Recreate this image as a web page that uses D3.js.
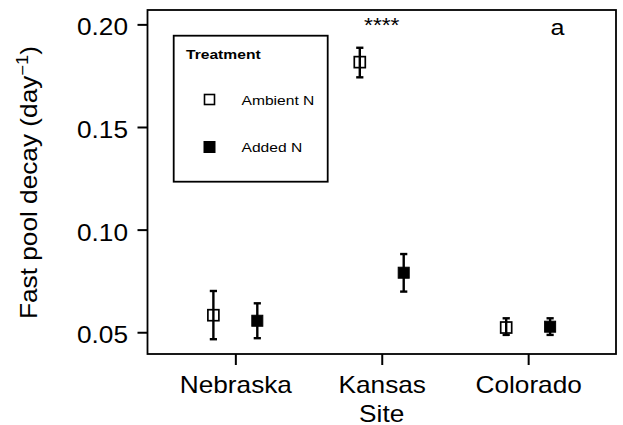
<!DOCTYPE html>
<html>
<head>
<meta charset="utf-8">
<script src="https://cdn.jsdelivr.net/npm/d3@7"></script>
<style>
  html, body { margin: 0; padding: 0; background: #fff; }
  svg { display: block; }
  text { font-family: "Liberation Sans", Arial, Helvetica, sans-serif; fill: #000; }
</style>
</head>
<body>
<svg id="chart" width="623" height="425"></svg>
<script>
// Fast pool decay rate by site and nitrogen treatment (mean with error bars)
const sites = ["Nebraska", "Kansas", "Colorado"];
const treatments = ["Ambient N", "Added N"];
const ambientMean = [0.0583, 0.1816, 0.0523];
const ambientLow  = [0.0466, 0.1742, 0.0487];
const ambientHigh = [0.0701, 0.1886, 0.0568];
const addedMean   = [0.0556, 0.0790, 0.0527];
const addedLow    = [0.0471, 0.0698, 0.0487];
const addedHigh   = [0.0641, 0.0881, 0.0568];
const yTicks = [0.05, 0.10, 0.15, 0.20];
const sigLabel = "****";   // significance marker above Kansas
const panelLabel = "a";

const W = 623, H = 425;
const plot = { left: 147.5, right: 616, top: 10, bottom: 354 };
const SX = 1.14;       // horizontal widening of glyphs
const FS = 23;         // main font size

const svg = d3.select("#chart");

const x = d3.scaleLinear().domain([0.4, 3.6]).range([plot.left, plot.right]);
const y = d3.scaleLinear().domain([0.0394, 0.2070]).range([plot.bottom, plot.top]);
const dodge = 0.15;

// rows for drawing
const rows = [];
sites.forEach((s, i) => {
  rows.push({ site: s, idx: i, trt: 0, mean: ambientMean[i], lo: ambientLow[i], hi: ambientHigh[i] });
  rows.push({ site: s, idx: i, trt: 1, mean: addedMean[i], lo: addedLow[i], hi: addedHigh[i] });
});
const xPos = d => x(d.idx + 1 + (d.trt === 0 ? -dodge : dodge));

// Y axis
const yAxis = svg.append("g")
  .attr("transform", `translate(${plot.left},0)`)
  .call(d3.axisLeft(y).tickValues(yTicks).tickFormat(d3.format(".2f")).tickSize(10).tickSizeOuter(0));
yAxis.select(".domain").remove();
yAxis.selectAll(".tick line").attr("stroke", "#000").attr("stroke-width", 2);
yAxis.selectAll(".tick text")
  .attr("font-size", FS)
  .attr("font-family", null)
  .attr("x", -19.5 / SX)
  .attr("dy", "0.46em")
  .attr("transform", `scale(${SX},1)`);

// X axis
const xAxis = svg.append("g")
  .attr("transform", `translate(0,${plot.bottom})`)
  .call(d3.axisBottom(x).tickValues([1, 2, 3]).tickFormat(d => sites[d - 1]).tickSize(11).tickSizeOuter(0));
xAxis.select(".domain").remove();
xAxis.selectAll(".tick line").attr("stroke", "#000").attr("stroke-width", 2);
xAxis.selectAll(".tick text")
  .attr("font-size", FS)
  .attr("font-family", null)
  .attr("y", 39.3)
  .attr("dy", 0)
  .attr("transform", `scale(${SX},1)`);

// Plot frame
svg.append("rect")
  .attr("x", plot.left).attr("y", plot.top)
  .attr("width", plot.right - plot.left).attr("height", plot.bottom - plot.top)
  .attr("fill", "none").attr("stroke", "#000").attr("stroke-width", 1.8);

// Axis titles
svg.append("text")
  .attr("text-anchor", "middle")
  .attr("font-size", FS)
  .attr("transform", `translate(381.7,421.7) scale(${SX},1)`)
  .text("Site");

const ylab = svg.append("text")
  .attr("text-anchor", "middle")
  .attr("font-size", FS)
  .attr("transform", `translate(37,182.5) rotate(-90) scale(${SX},1)`);
ylab.append("tspan").text("Fast pool decay (day");
ylab.append("tspan").attr("font-size", FS * 0.7).attr("dy", -9).text("\u22121");
ylab.append("tspan").attr("dy", 9).text(")");

// Error bars
const capHalf = 3.6;
const eb = svg.append("g").attr("stroke", "#000").attr("stroke-width", 2.4);
eb.selectAll("line.v").data(rows).join("line").attr("class", "v")
  .attr("x1", xPos).attr("x2", xPos)
  .attr("y1", d => y(d.lo)).attr("y2", d => y(d.hi));
eb.selectAll("line.top").data(rows).join("line").attr("class", "top")
  .attr("x1", d => xPos(d) - capHalf).attr("x2", d => xPos(d) + capHalf)
  .attr("y1", d => y(d.hi)).attr("y2", d => y(d.hi));
eb.selectAll("line.bot").data(rows).join("line").attr("class", "bot")
  .attr("x1", d => xPos(d) - capHalf).attr("x2", d => xPos(d) + capHalf)
  .attr("y1", d => y(d.lo)).attr("y2", d => y(d.lo));

// Points: open squares for ambient, filled for added
const sq = 11;
svg.append("g").selectAll("rect").data(rows).join("rect")
  .attr("x", d => xPos(d) - sq / 2)
  .attr("y", d => y(d.mean) - sq / 2)
  .attr("width", sq).attr("height", sq)
  .attr("fill", d => d.trt === 0 ? "none" : "#000")
  .attr("stroke", "#000")
  .attr("stroke-width", d => d.trt === 0 ? 1.7 : 1);

// Significance marker and panel label
svg.append("text")
  .attr("text-anchor", "middle")
  .attr("font-size", 20)
  .attr("transform", `translate(${x(2)},31.5) scale(${SX},1)`)
  .text(sigLabel);
svg.append("text")
  .attr("text-anchor", "middle")
  .attr("font-size", 22)
  .attr("transform", `translate(557.5,35) scale(${SX},1)`)
  .text(panelLabel);

// Legend
const lg = svg.append("g");
lg.append("rect")
  .attr("x", 173.7).attr("y", 35.7).attr("width", 154).attr("height", 146)
  .attr("fill", "#fff").attr("stroke", "#000").attr("stroke-width", 1.8);
lg.append("text")
  .attr("font-size", 13.7).attr("font-weight", "bold")
  .attr("transform", `translate(186,59) scale(${SX},1)`)
  .text("Treatment");
const legY = [99.5, 147];
treatments.forEach((t, i) => {
  const ls = i === 0 ? 10 : 11;
  lg.append("rect")
    .attr("x", 209.5 - ls / 2).attr("y", legY[i] - ls / 2)
    .attr("width", ls).attr("height", ls)
    .attr("fill", i === 0 ? "none" : "#000")
    .attr("stroke", "#000").attr("stroke-width", i === 0 ? 1.6 : 1);
  lg.append("text")
    .attr("font-size", 13.7)
    .attr("transform", `translate(241.5,${legY[i] + 5}) scale(${SX},1)`)
    .text(t);
});
</script>
</body>
</html>
